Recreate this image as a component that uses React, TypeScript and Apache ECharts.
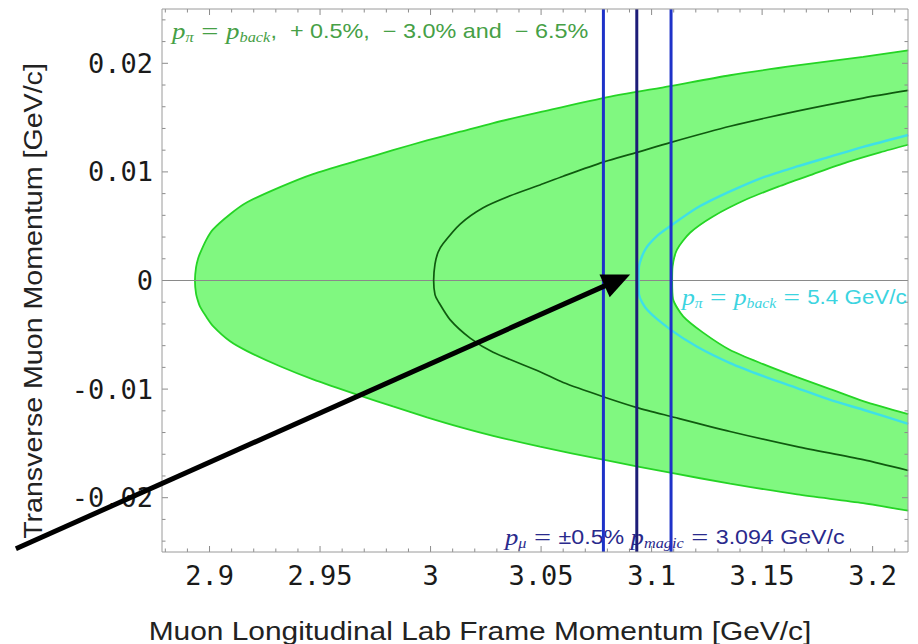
import React, { useEffect, useRef } from 'react';
import * as echarts from 'echarts';

// ---- axis ranges and tick labels ----
const xRange = [2.8785, 3.216];
const yRange = [-0.025, 0.025];
const xTickLabels = [2.9, 2.95, 3, 3.05, 3.1, 3.15, 3.2];
const yTickLabels = [-0.02, -0.01, 0, 0.01, 0.02];
const xMinorTicks = [2.88, 2.89, 2.91, 2.92, 2.93, 2.94, 2.96, 2.97, 2.98, 2.99, 3.01, 3.02, 3.03, 3.04, 3.06, 3.07, 3.08, 3.09, 3.11, 3.12, 3.13, 3.14, 3.16, 3.17, 3.18, 3.19, 3.21];
const yMinorTicks = [-0.024, -0.022, -0.018, -0.016, -0.014, -0.012, -0.008, -0.006, -0.004, -0.002, 0.002, 0.004, 0.006, 0.008, 0.012, 0.014, 0.016, 0.018, 0.022, 0.024];

// ---- curves: [longitudinal, transverse] GeV/c ----
// p_pi = p_back - 6.5%  (outer edge of the band)
const outerUpper = [[2.8934, 0], [2.8939, 0.0012], [2.8948, 0.002], [2.8957, 0.0025], [2.8984, 0.0037], [2.9016, 0.0047], [2.9093, 0.0061], [2.917, 0.0072], [2.9319, 0.0086], [2.9468, 0.0098], [2.9681, 0.0111], [2.983, 0.012], [2.9984, 0.0129], [3.0134, 0.0137], [3.0283, 0.0145], [3.0495, 0.0155], [3.0781, 0.0168], [3.1084, 0.0179], [3.1355, 0.0189], [3.1658, 0.0198], [3.1957, 0.0206], [3.2161, 0.0212]];
const outerLower = [[2.8934, 0], [2.8939, -0.0012], [2.8948, -0.0019], [2.8957, -0.0024], [2.8984, -0.0033], [2.9016, -0.0042], [2.9093, -0.0056], [2.917, -0.0065], [2.9319, -0.0079], [2.9468, -0.0091], [2.9681, -0.0106], [2.983, -0.0116], [2.9984, -0.0126], [3.0134, -0.0135], [3.0283, -0.0143], [3.0495, -0.0153], [3.0781, -0.0165], [3.1084, -0.0177], [3.1355, -0.0187], [3.1658, -0.0197], [3.1957, -0.0205], [3.2161, -0.0212]];
// p_pi = p_back - 3.0%  (dark green)
const midUpper = [[3.0014, 0], [3.002, 0.0015], [3.0034, 0.0026], [3.0057, 0.0034], [3.0134, 0.0052], [3.0238, 0.0067], [3.036, 0.0078], [3.0495, 0.0088], [3.06, 0.0096], [3.0781, 0.0109], [3.0934, 0.0118], [3.1084, 0.0127], [3.1355, 0.0142], [3.1658, 0.0156], [3.1957, 0.0168], [3.2161, 0.0175]];
const midLower = [[3.0014, 0], [3.002, -0.0013], [3.0034, -0.0019], [3.0088, -0.0036], [3.0179, -0.0053], [3.0283, -0.0066], [3.0495, -0.0084], [3.06, -0.0094], [3.0781, -0.0107], [3.0934, -0.0117], [3.1084, -0.0125], [3.1355, -0.0139], [3.1658, -0.0153], [3.1957, -0.0165], [3.2161, -0.0175]];
// p_pi = p_back = 5.4 GeV/c  (cyan)
const backUpper = [[3.0941, 0], [3.0943, 0.0013], [3.0971, 0.00285], [3.1025, 0.0041], [3.1084, 0.005], [3.1206, 0.0067], [3.1355, 0.0082], [3.1505, 0.0095], [3.1658, 0.0105], [3.1808, 0.0114], [3.1957, 0.0123], [3.2161, 0.0134]];
const backLower = [[3.0941, 0], [3.0943, -0.0013], [3.098, -0.0027], [3.1084, -0.0045], [3.1206, -0.0061], [3.1355, -0.0076], [3.1505, -0.0088], [3.1658, -0.0099], [3.1808, -0.011], [3.1957, -0.0119], [3.2161, -0.0132]];
// p_pi = p_back + 0.5%  (inner edge of the band)
const innerUpper = [[3.1093, 0], [3.1095, 0.0013], [3.1115, 0.00285], [3.1174, 0.0044], [3.1278, 0.0059], [3.1432, 0.0075], [3.1581, 0.0087], [3.1731, 0.0098], [3.1885, 0.0109], [3.2034, 0.0118], [3.2161, 0.0125]];
const innerLower = [[3.1093, 0], [3.1097, -0.0017], [3.1143, -0.0033], [3.1233, -0.0048], [3.1355, -0.0064], [3.1505, -0.0077], [3.1658, -0.0089], [3.1808, -0.01], [3.1957, -0.0111], [3.2161, -0.0123]];

// p_magic - 0.5%, p_magic, p_magic + 0.5%
const magicLines = [3.0782, 3.0933, 3.1088];

// arrow annotation (data coordinates)
const arrowTail = [2.8124, -0.0247];
const arrowTip = [3.0903, 0.00055];

const fullCurve = (lower: number[][], upper: number[][]) => [...lower.slice().reverse(), ...upper.slice(1)];
const bandPolygon = [
  ...outerUpper.slice().reverse(),
  ...outerLower.slice(1),
  ...innerLower.slice().reverse(),
  ...innerUpper.slice(1),
];

const TICK_COLOR = '#8c8c8c';

const makeTickSeries = (values: number[], axis: 'x' | 'y', len: number) => ({
  type: 'custom',
  silent: true,
  z: 15,
  clip: false,
  data: values.map((v) => (axis === 'x' ? [v, 0] : [(xRange[0] + xRange[1]) / 2, v])),
  renderItem: (params: any, api: any) => {
    const cs = params.coordSys;
    const p = api.coord([api.value(0), api.value(1)]);
    const style = { stroke: TICK_COLOR, lineWidth: 1, fill: null };
    if (axis === 'x') {
      const bottom = cs.y + cs.height;
      return {
        type: 'group',
        children: [
          { type: 'line', shape: { x1: p[0], y1: bottom, x2: p[0], y2: bottom - len }, style },
          { type: 'line', shape: { x1: p[0], y1: cs.y, x2: p[0], y2: cs.y + len }, style },
        ],
      };
    }
    const right = cs.x + cs.width;
    return {
      type: 'group',
      children: [
        { type: 'line', shape: { x1: cs.x, y1: p[1], x2: cs.x + len, y2: p[1] }, style },
        { type: 'line', shape: { x1: right, y1: p[1], x2: right - len, y2: p[1] }, style },
      ],
    };
  },
});

const curveSeries = (data: number[][], color: string, width: number, z: number) => ({
  type: 'line',
  data,
  symbol: 'none',
  showSymbol: false,
  smooth: 0.25,
  silent: true,
  z,
  lineStyle: { color, width },
});

const mathRich = (size: number, color: string) => ({
  m: { fontFamily: 'Liberation Serif', fontStyle: 'italic', fontSize: size + 3, lineHeight: 26, fill: color },
  s: { fontFamily: 'Liberation Serif', fontStyle: 'italic', fontSize: Math.round(size * 0.7), lineHeight: 14, verticalAlign: 'bottom', fill: color },
  e: { fontFamily: 'Liberation Serif', fontSize: size + 6, lineHeight: 26, fill: color },
  t: { fontFamily: 'Liberation Sans', fontSize: size, lineHeight: 26, fill: color },
});

export default function App() {
  const ref = useRef<HTMLDivElement>(null);
  useEffect(() => {
    const chart = echarts.init(ref.current!, null, { renderer: 'svg' });
    const fmt = (vals: number[]) => (v: number) => {
      const hit = vals.find((t) => Math.abs(t - v) < 1e-9);
      return hit === undefined ? '' : String(hit);
    };
    const option: any = {
      animation: false,
      backgroundColor: '#ffffff',
      grid: {
        left: 162, right: 10, top: 9, bottom: 92,
        show: true, borderColor: '#9a9a9a', borderWidth: 1, backgroundColor: 'transparent',
        z: 20, containLabel: false, outerBoundsMode: 'none',
      },
      xAxis: {
        type: 'value', min: xRange[0], max: xRange[1],
        axisLine: { show: false }, axisTick: { show: false }, splitLine: { show: false },
        axisLabel: {
          customValues: xTickLabels, formatter: fmt(xTickLabels),
          fontFamily: 'DejaVu Sans Mono', fontSize: 27, color: '#1a1a1a', margin: 10,
          showMinLabel: true, showMaxLabel: true,
        },
      },
      yAxis: {
        type: 'value', min: yRange[0], max: yRange[1],
        axisLine: { show: false }, axisTick: { show: false }, splitLine: { show: false },
        axisLabel: {
          customValues: yTickLabels, formatter: fmt(yTickLabels),
          fontFamily: 'DejaVu Sans Mono', fontSize: 27, color: '#1a1a1a', margin: 9,
        },
      },
      series: [
        {
          type: 'custom', silent: true, z: 1, clip: true,
          data: [[(xRange[0] + xRange[1]) / 2, 0]],
          renderItem: (_p: any, api: any) => ({
            type: 'polygon',
            shape: { points: bandPolygon.map((pt) => api.coord(pt)) },
            style: { fill: '#80f880', stroke: null },
          }),
        },
        curveSeries(fullCurve(outerLower, outerUpper), '#25d425', 1.8, 3),
        curveSeries(fullCurve(innerLower, innerUpper), '#25d425', 1.8, 3),
        {
          ...curveSeries(fullCurve(midLower, midUpper), '#0f5a0f', 1.7, 5),
          markLine: {
            silent: true, symbol: 'none', label: { show: false },
            lineStyle: { color: '#8a8a8a', width: 1, type: 'solid' },
            data: [{ yAxis: 0 }],
          },
        },
        curveSeries(fullCurve(backLower, backUpper), '#3fe0e6', 2.4, 6),
        ...magicLines.map((x, i) => ({
          type: 'line',
          data: [[x, yRange[0]], [x, yRange[1]]],
          symbol: 'none', showSymbol: false, silent: true, z: 8,
          lineStyle: { color: i === 1 ? '#1c1c78' : '#1e32c8', width: 3 },
        })),
        makeTickSeries(xTickLabels, 'x', 6),
        makeTickSeries(xMinorTicks, 'x', 3.5),
        makeTickSeries(yTickLabels, 'y', 6),
        makeTickSeries(yMinorTicks, 'y', 3.5),
      ],
    };
    chart.setOption(option);

    const tail = chart.convertToPixel({ gridIndex: 0 }, arrowTail) as number[];
    const tip = chart.convertToPixel({ gridIndex: 0 }, arrowTip) as number[];
    const dx = tip[0] - tail[0];
    const dy = tip[1] - tail[1];
    const L = Math.hypot(dx, dy);
    const ux = dx / L, uy = dy / L;
    const headLen = 28, halfW = 12.5;
    const base = [tip[0] - ux * headLen, tip[1] - uy * headLen];
    const c1 = [base[0] - uy * halfW, base[1] + ux * halfW];
    const c2 = [base[0] + uy * halfW, base[1] - ux * halfW];

    const green = '#46a046';
    const cyan = '#3cd4e0';
    const navy = '#2a2a8c';

    chart.setOption({
      graphic: [
        {
          id: 'xTitle', type: 'text', x: 480, y: 631, scaleX: 1.15, z: 3,
          style: {
            text: 'Muon Longitudinal Lab Frame Momentum [GeV/c]',
            fontFamily: 'Liberation Sans', fontSize: 26, fill: '#222', align: 'center', verticalAlign: 'middle',
          },
        },
        {
          id: 'yTitle', type: 'text', x: 33, y: 301, rotation: Math.PI / 2, scaleX: 1.1, z: 3,
          style: {
            text: 'Transverse Muon Momentum [GeV/c]',
            fontFamily: 'Liberation Sans', fontSize: 26, fill: '#222', align: 'center', verticalAlign: 'middle',
          },
        },
        {
          id: 'greenNote', type: 'text', x: 172, y: 31, scaleX: 1.17, z: 30,
          style: {
            text: '{m|p}{s|π}{e| = }{m|p}{s|back}{t|,  + 0.5%,  − 3.0% and  − 6.5%}',
            rich: mathRich(20, green), align: 'left', verticalAlign: 'middle', fill: green,
          },
        },
        {
          id: 'cyanNote', type: 'text', x: 682, y: 297, scaleX: 1.12, z: 30,
          style: {
            text: '{m|p}{s|π}{e| = }{m|p}{s|back}{e| = }{t|5.4 GeV/c}',
            rich: mathRich(20, cyan), align: 'left', verticalAlign: 'middle', fill: cyan,
          },
        },
        {
          id: 'navyNote', type: 'text', x: 505, y: 537, scaleX: 1.16, z: 1,
          style: {
            text: '{m|p}{s|μ}{e| = }{t|±0.5% }{m|p}{s|magic}{e| = }{t|3.094 GeV/c}',
            rich: mathRich(20, navy), align: 'left', verticalAlign: 'middle', fill: navy,
          },
        },
        {
          id: 'arrowLine', type: 'line', z: 100,
          shape: { x1: tail[0], y1: tail[1], x2: base[0] + ux * 2, y2: base[1] + uy * 2 },
          style: { stroke: '#000', lineWidth: 5 },
        },
        {
          id: 'arrowHead', type: 'polygon', z: 100,
          shape: { points: [tip, c1, c2] },
          style: { fill: '#000' },
        },
      ],
    });

    return () => chart.dispose();
  }, []);
  return (
    <div
      ref={ref}
      style={{ position: 'fixed', left: 0, top: 0, width: 918, height: 644, background: '#fff' }}
    />
  );
}
